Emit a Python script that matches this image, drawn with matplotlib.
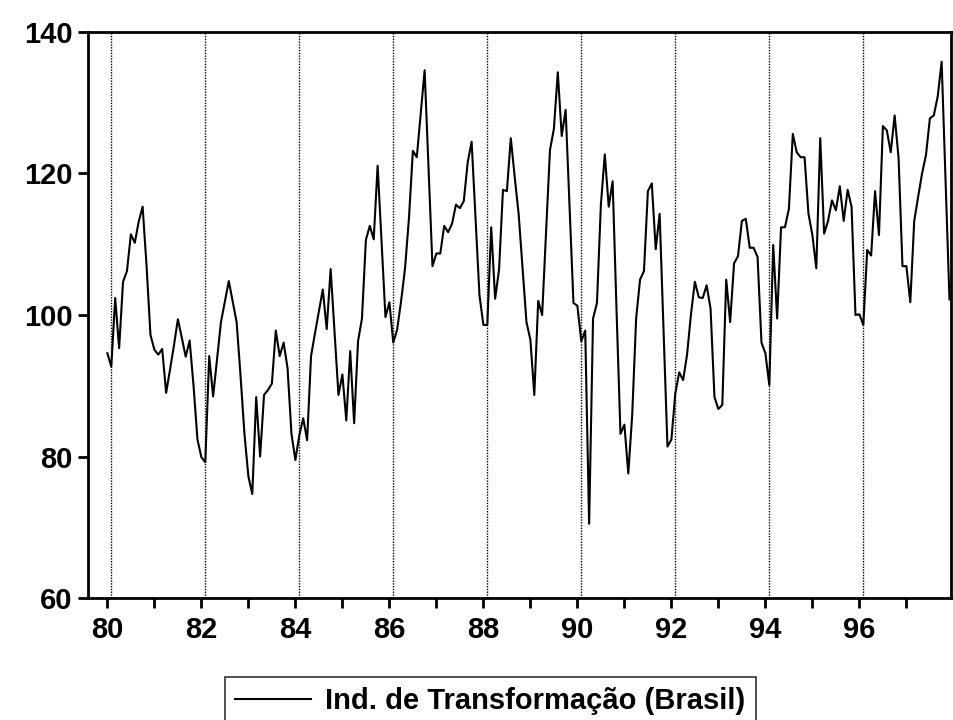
import matplotlib
matplotlib.use("Agg")
import matplotlib.pyplot as plt
import numpy as np

# monthly index, Jan 1980 .. Dec 1997
start_year = 1980
values_1980 = [94.6, 92.7, 102.4, 95.3, 104.7, 106.2, 111.4, 110.2, 113.2, 115.3, 107.0, 97.2]
values_1981 = [95.1, 94.4, 95.2, 89.0, 92.3, 95.7, 99.4, 96.8, 94.1, 96.4, 90.0, 82.4]
values_1982 = [79.9, 79.2, 94.2, 88.5, 93.7, 99.0, 101.9, 104.8, 101.9, 99.0, 91.4, 83.2]
values_1983 = [77.2, 74.7, 88.4, 80.0, 88.7, 89.4, 90.3, 97.8, 94.2, 96.1, 92.5, 83.2]
values_1984 = [79.5, 83.0, 85.4, 82.3, 94.2, 97.4, 100.5, 103.6, 98.0, 106.5, 97.6, 88.7]
values_1985 = [91.6, 85.1, 94.9, 84.7, 96.3, 99.5, 110.6, 112.6, 110.7, 121.1, 110.5, 99.7]
values_1986 = [101.8, 96.1, 98.0, 102.0, 106.6, 113.7, 123.2, 122.3, 128.5, 134.6, 120.8, 106.9]
values_1987 = [108.7, 108.7, 112.6, 111.7, 112.9, 115.6, 115.1, 116.1, 121.6, 124.5, 113.5, 102.8]
values_1988 = [98.6, 98.6, 112.4, 102.3, 106.4, 117.7, 117.5, 125.0, 119.5, 114.3, 106.6, 99.0]
values_1989 = [96.5, 88.7, 102.0, 100.0, 111.5, 123.3, 126.3, 134.3, 125.3, 129.0, 115.4, 101.7]
values_1990 = [101.3, 96.3, 97.8, 70.5, 99.5, 101.7, 115.6, 122.7, 115.3, 118.9, 100.6, 83.2]
values_1991 = [84.5, 77.6, 85.9, 99.5, 105.0, 106.2, 117.5, 118.6, 109.3, 114.3, 97.9, 81.4]
values_1992 = [82.4, 88.9, 91.9, 90.8, 94.4, 100.1, 104.7, 102.5, 102.4, 104.2, 100.9, 88.4]
values_1993 = [86.7, 87.3, 105.0, 99.0, 107.3, 108.3, 113.3, 113.6, 109.5, 109.5, 108.2, 96.1]
values_1994 = [94.6, 90.1, 109.9, 99.5, 112.4, 112.4, 115.0, 125.6, 123.0, 122.3, 122.3, 114.3]
values_1995 = [111.3, 106.6, 125.0, 111.5, 113.3, 116.2, 114.8, 118.2, 113.3, 117.7, 115.3, 100.0]
values_1996 = [100.1, 98.6, 109.2, 108.4, 117.5, 111.3, 126.7, 126.1, 123.0, 128.2, 122.2, 106.9]
values_1997 = [106.9, 101.8, 113.3, 116.7, 120.0, 122.6, 127.8, 128.2, 130.9, 135.8, 119.2, 102.2]

yearly = [values_1980, values_1981, values_1982, values_1983, values_1984, values_1985,
          values_1986, values_1987, values_1988, values_1989, values_1990, values_1991,
          values_1992, values_1993, values_1994, values_1995, values_1996, values_1997]
series = np.concatenate(yearly)
t = start_year + np.arange(len(series)) / 12.0

year_ticks = list(range(1980, 1998))
tick_labels = [str(y % 100) if y % 2 == 0 else "" for y in year_ticks]
grid_years = list(range(1980, 1998, 2))
y_ticks = [60, 80, 100, 120, 140]

plt.rcParams["font.family"] = ["Liberation Sans", "DejaVu Sans"]

fig = plt.figure(figsize=(9.54, 7.2), dpi=100)
ax = fig.add_axes([0.0922, 0.1694, 0.9047, 0.7862])

for gy in grid_years:
    ax.axvline(gy + 1 / 12, color="black", linestyle=(0, (1, 1)), linewidth=1.0, zorder=1)

ax.plot(t, series, color="black", linewidth=1.5, label="Ind. de Transformação (Brasil)", zorder=3)

ax.set_xlim(1980 - 0.413, 1980 + 17.95)
ax.set_ylim(60, 140)
ax.set_xticks(year_ticks)
ax.set_xticklabels(tick_labels)
ax.set_yticks(y_ticks)
for spine in ax.spines.values():
    spine.set_linewidth(2.0)
ax.tick_params(axis="both", direction="out", width=2.0, length=7,
               labelsize=21, pad=4)
ax.tick_params(axis="x", pad=6)
for lbl in ax.get_xticklabels() + ax.get_yticklabels():
    lbl.set_fontweight("bold")

leg = fig.legend(loc="upper center", bbox_to_anchor=(0.514, 0.0597),
                 borderaxespad=0, frameon=True, fancybox=False,
                 handlelength=2.6, handletextpad=0.5, borderpad=0.35,
                 prop={"size": 21, "weight": "bold"})
leg.get_frame().set_edgecolor("black")
leg.get_frame().set_linewidth(1.2)

fig.savefig("out.png", dpi=100)
